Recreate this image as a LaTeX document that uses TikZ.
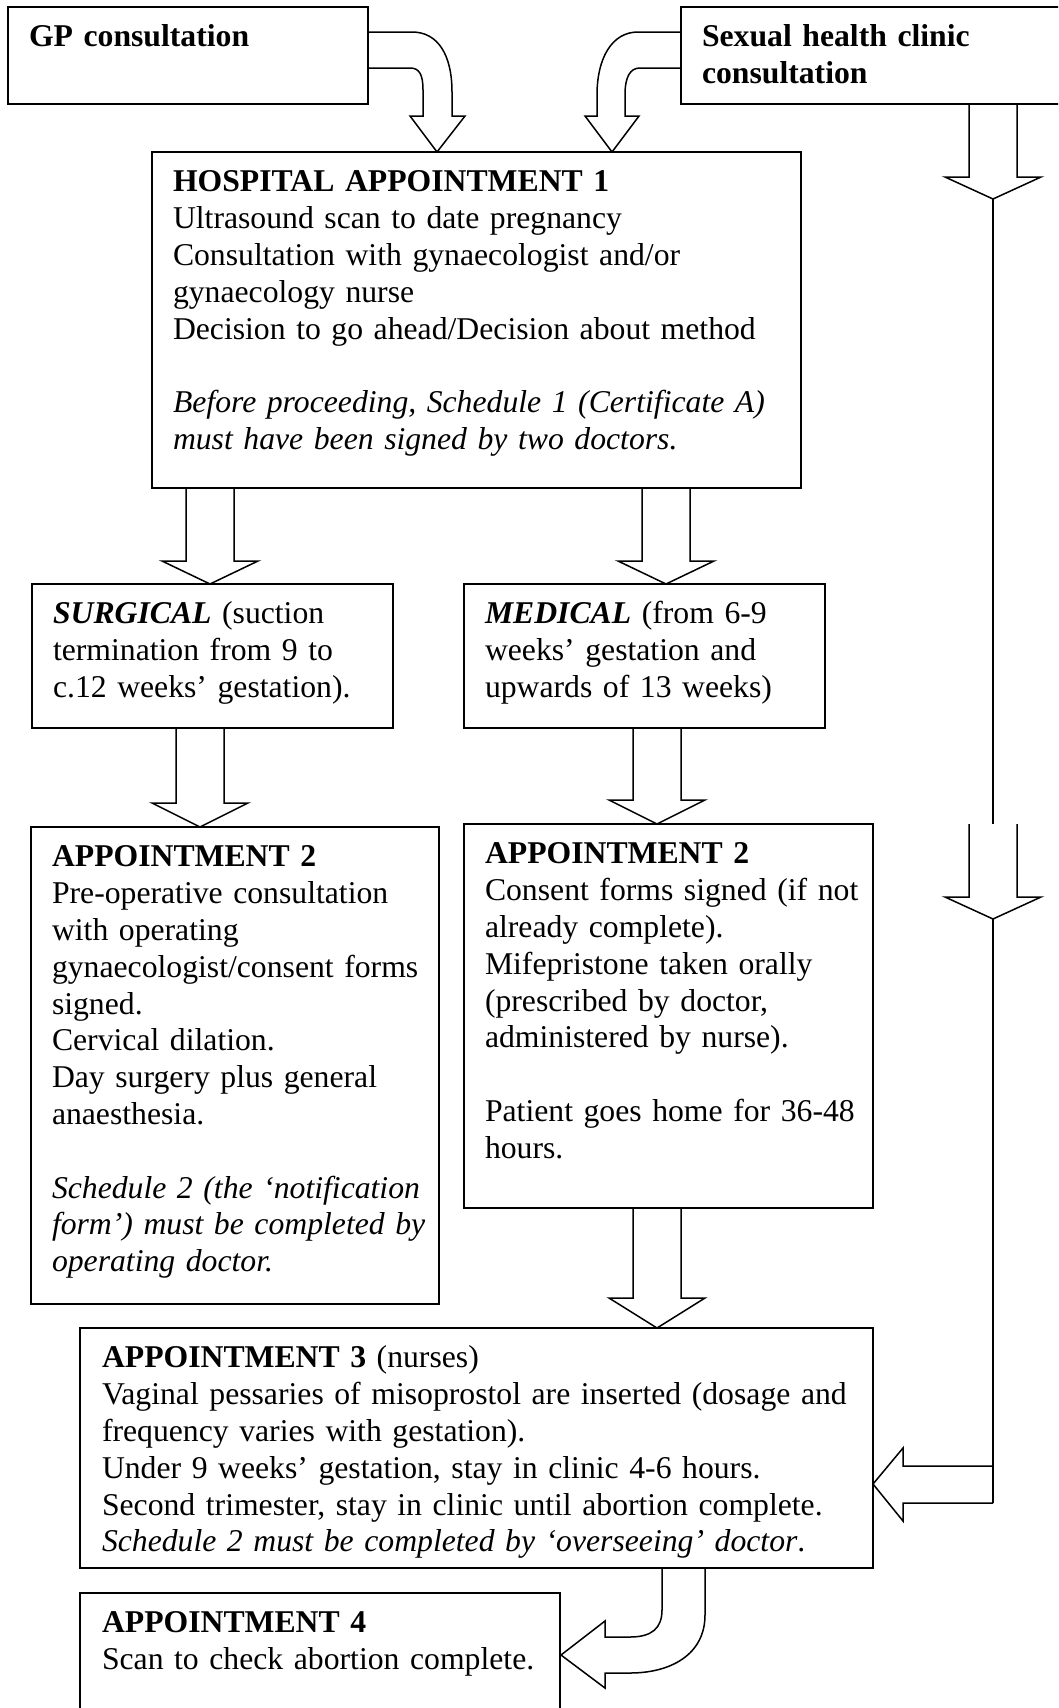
\documentclass[tikz,border=0pt]{standalone}
\usepackage{fontspec}
\setmainfont{Liberation Serif}
\newcommand\BlkDown[4]{%
  \draw[arr] (#1-24,#2) -- (#1-24,#3-#4) -- (#1-48,#3-#4) -- (#1,#3) -- (#1+48,#3-#4) -- (#1+24,#3-#4) -- (#1+24,#2);}
\newcommand\txtfont{\fontsize{31.7}{36.8}\selectfont\setlength{\spaceskip}{6pt plus 1pt minus 1pt}}
\begin{document}
\begin{tikzpicture}[x=1pt,y=-1pt,
  box/.style={draw, line width=1.5pt, inner sep=0pt, outer sep=0pt, anchor=north west},
  txt/.style={anchor=north west, inner sep=0pt, outer sep=0pt, align=left, text width=900pt,
    font=\txtfont},
  arr/.style={draw, line width=1.5pt, line join=miter}]
\useasboundingbox (0,0) rectangle (1058,1708);
\clip (0,0) rectangle (1058,1708);
\fill[white] (0,0) rectangle (1058,1708);

% boxes
\node[box, minimum width=360pt, minimum height=97pt] (gp) at (8,7) {};
\node[box, minimum width=420pt, minimum height=97pt] (sh) at (681,7) {};
\node[box, minimum width=649pt, minimum height=336pt] (hosp) at (152,152) {};
\node[box, minimum width=361pt, minimum height=144pt] (surg) at (32,584) {};
\node[box, minimum width=361pt, minimum height=144pt] (med) at (464,584) {};
\node[box, minimum width=408pt, minimum height=477pt] (surga) at (31,827) {};
\node[box, minimum width=409pt, minimum height=384pt] (meda) at (464,824) {};
\node[box, minimum width=793pt, minimum height=240pt] (app3) at (80,1328) {};
\node[box, minimum width=480pt, minimum height=160pt] (app4) at (80,1593) {};

% texts
\node[txt] (gpt) at (29,21.2) {\strut\textbf{GP consultation}};
\node[txt] (sht) at (702,21.2) {\strut\textbf{Sexual health clinic}\\\textbf{consultation}};
\node[txt] (hospt) at (173,166.2) {\strut\textbf{HOSPITAL APPOINTMENT 1}\\
Ultrasound scan to date pregnancy\\
Consultation with gynaecologist and/or\\
gynaecology nurse\\
Decision to go ahead/Decision about method\\[36.8pt]
\textit{Before proceeding, Schedule 1 (Certificate A)}\\
\textit{must have been signed by two doctors.}};
\node[txt] (surgt) at (53,598.2) {\strut\textbf{\textit{SURGICAL}} (suction\\
termination from 9 to\\
c.12 weeks’ gestation).};
\node[txt] (medt) at (485,598.2) {\strut\textbf{\textit{MEDICAL}} (from 6-9\\
weeks’ gestation and\\
upwards of 13 weeks)};
\node[txt] (surgat) at (52,841.2) {\strut\textbf{APPOINTMENT 2}\\
Pre-operative consultation\\
with operating\\
gynaecologist/consent forms\\
signed.\\
Cervical dilation.\\
Day surgery plus general\\
anaesthesia.\\[36.8pt]
\textit{Schedule 2 (the ‘notification}\\
\textit{form’) must be completed by}\\
\textit{operating doctor.}};
\node[txt] (medat) at (485,838.2) {\strut\textbf{APPOINTMENT 2}\\
Consent forms signed (if not\\
already complete).\\
Mifepristone taken orally\\
(prescribed by doctor,\\
administered by nurse).\\[36.8pt]
Patient goes home for 36-48\\
hours.};
\node[txt] (app3t) at (102,1342.2) {\strut\textbf{APPOINTMENT 3} (nurses)\\
Vaginal pessaries of misoprostol are inserted (dosage and\\
frequency varies with gestation).\\
Under 9 weeks’ gestation, stay in clinic 4-6 hours.\\
Second trimester, stay in clinic until abortion complete.\\
\textit{Schedule 2 must be completed by ‘overseeing’ doctor}.};
\node[txt] (app4t) at (102,1607.2) {\strut\textbf{APPOINTMENT 4}\\
Scan to check abortion complete.};

% curved arrows at top
\draw[arr] (368,32) -- (412,32) .. controls (438,32) and (452,55) .. (452,92) -- (452,116)
  -- (465,116) -- (437,152) -- (410,116) -- (423,116) -- (423,90)
  .. controls (423,74) and (419,68) .. (410,68) -- (368,68);
\draw[arr] (681,32) -- (638,32) .. controls (612,32) and (597,58) .. (597,95) -- (597,116)
  -- (585,116) -- (612,152) -- (639,116) -- (625,116) -- (625,95)
  .. controls (625,77) and (630,68) .. (640,68) -- (681,68);

% straight block arrows
\BlkDown{210}{488}{584}{23}
\BlkDown{666}{488}{584}{23}
\BlkDown{200}{728}{827}{24}
\BlkDown{657}{728}{824}{24}
\BlkDown{657}{1208}{1328}{30}
\BlkDown{993}{104}{199}{22}
\BlkDown{993}{824}{919}{22}

% right-hand line and left arrow into appointment 3
\draw[arr] (993,199) -- (993,824);
\draw[arr] (993,919) -- (993,1503);
\draw[arr] (993,1466) -- (903,1466) -- (903,1448) -- (873,1484) -- (903,1521) -- (903,1503) -- (993,1503);

% curved arrow appointment 3 -> appointment 4
\draw[arr] (705,1568) -- (705,1615) .. controls (705,1655) and (670,1673) .. (630,1673) -- (605,1673)
  -- (605,1688) -- (561,1655) -- (605,1621) -- (605,1637) -- (630,1637)
  .. controls (652,1637) and (662,1628) .. (662,1610) -- (662,1568);
\end{tikzpicture}
\end{document}
